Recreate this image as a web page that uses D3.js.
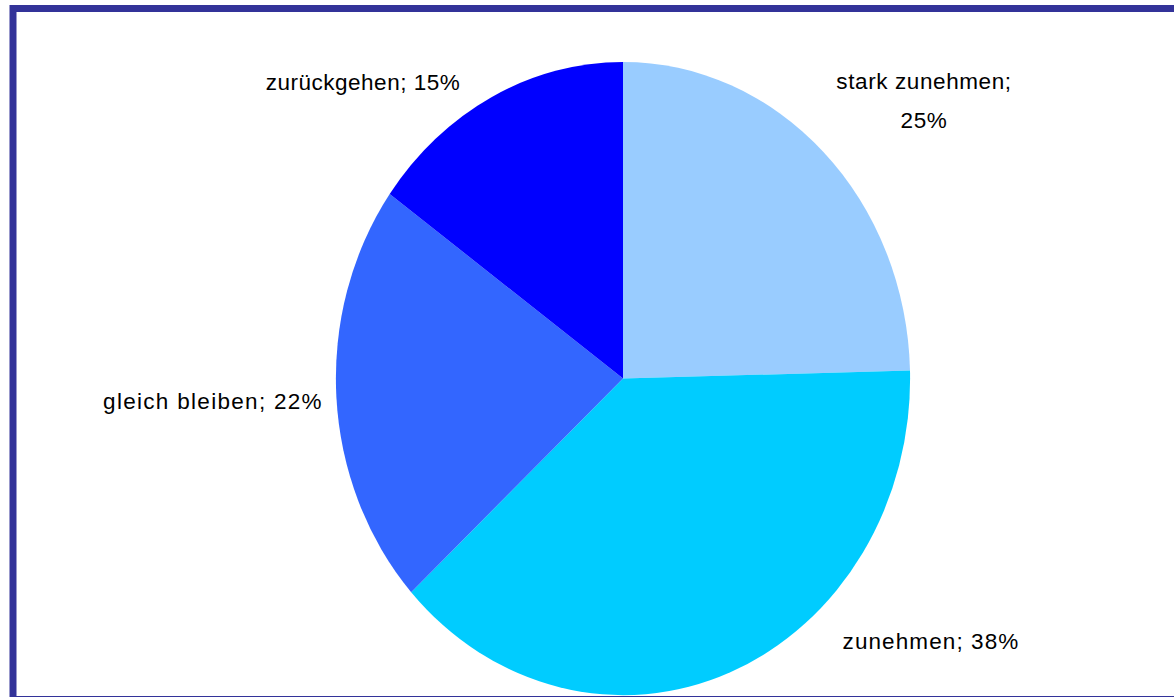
<!DOCTYPE html>
<html>
<head>
<meta charset="utf-8">
<script src="https://cdn.jsdelivr.net/npm/d3@7"></script>
<style>
  html, body { margin: 0; padding: 0; background: #ffffff; overflow: hidden; }
  svg { display: block; }
</style>
</head>
<body>
<script>
// ---- data ----
const categories = ["stark zunehmen", "zunehmen", "gleich bleiben", "zurückgehen"];
const values = [24.6, 38.6, 21.7, 15.1];
const colors = ["#99CCFF", "#00CCFF", "#3366FF", "#0000FF"];
// label text lines (as shown)
const labelLines = [
  ["stark zunehmen;", "25%"],
  ["zunehmen; 38%"],
  ["gleich bleiben; 22%"],
  ["zurückgehen; 15%"]
];
// layout: label anchor offsets from pie centre and letter spacing
const labelOffsets = [[301, -290], [308, 270], [-410, 30], [-260, -289]];
const labelSpacing = [0.6, 1.1, 1.3, 0.5];

const W = 1174, H = 697;
const cx = 623, cy = 378.5, rx = 287, ry = 316.5;

const svg = d3.select("body").append("svg").attr("width", W).attr("height", H);
svg.append("rect").attr("width", W).attr("height", H).attr("fill", "#fff");

const pie = d3.pie().sort(null).value(d => d)(values);
const arc = d3.arc().innerRadius(0).outerRadius(1);

const g = svg.append("g").attr("transform", `translate(${cx},${cy}) scale(${rx},${ry})`);
g.selectAll("path").data(pie).join("path")
  .attr("d", arc)
  .attr("fill", (d, i) => colors[i]);

const lg = svg.append("g").attr("transform", `translate(${cx},${cy})`);
labelLines.forEach((lines, i) => {
  const t = lg.append("text")
    .attr("x", labelOffsets[i][0])
    .attr("y", labelOffsets[i][1])
    .attr("text-anchor", "middle")
    .attr("font-family", "'Liberation Sans', Arial, sans-serif")
    .attr("font-size", 22.5)
    .attr("letter-spacing", labelSpacing[i])
    .attr("fill", "#000");
  lines.forEach((ln, j) => {
    t.append("tspan").attr("x", labelOffsets[i][0]).attr("dy", j === 0 ? 0 : 39).text(ln);
  });
});

// frame
svg.append("rect")
  .attr("x", 13).attr("y", 8.5)
  .attr("width", 1250).attr("height", 691)
  .attr("fill", "none")
  .attr("stroke", "#333399")
  .attr("stroke-width", 7);
</script>
</body>
</html>
